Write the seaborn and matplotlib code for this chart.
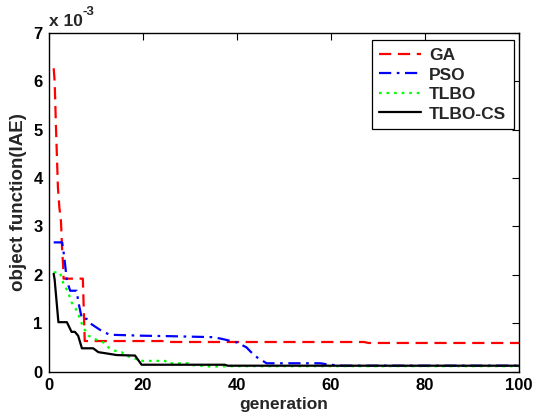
import numpy as np
import pandas as pd
import matplotlib
matplotlib.use("Agg")
import matplotlib.pyplot as plt
from matplotlib.ticker import FuncFormatter
import seaborn as sns

# Convergence curves: best objective value (IAE) per generation
ga_gen = [1, 1.2, 1.5, 1.7, 1.9, 2.2, 2.55, 2.8, 3.0, 3.1, 7.2, 7.6, 25, 26, 67, 68, 100]
ga_iae = [6.27e-3, 6.0e-3, 5.0e-3, 4.4e-3, 3.8e-3, 3.4e-3, 3.1e-3, 2.5e-3, 2.2e-3, 1.92e-3,
          1.92e-3, 0.63e-3, 0.63e-3, 0.61e-3, 0.61e-3, 0.59e-3, 0.59e-3]

pso_gen = [1, 2.8, 3.2, 3.5, 3.8, 4.5, 5.9, 6.2, 7.0, 8.0, 8.7, 11.5, 13.0, 20, 26, 35,
           37, 40, 42, 43, 44.3, 46.3, 57.7, 59.8, 62.5, 100]
pso_iae = [2.67e-3, 2.67e-3, 2.4e-3, 2.15e-3, 1.88e-3, 1.67e-3, 1.67e-3, 1.46e-3, 1.09e-3,
           1.09e-3, 1.0e-3, 0.82e-3, 0.76e-3, 0.74e-3, 0.73e-3, 0.71e-3, 0.67e-3, 0.6e-3,
           0.5e-3, 0.4e-3, 0.29e-3, 0.17e-3, 0.17e-3, 0.14e-3, 0.12e-3, 0.12e-3]

tlbo_gen = [1, 2.3, 3.0, 4.1, 4.8, 5.9, 6.6, 7.3, 8.4, 9.8, 11.6, 12.6, 14.0, 15.5, 16.0,
            18.5, 19.0, 24.7, 25.2, 29.6, 30.0, 34.6, 38, 100]
tlbo_iae = [2.05e-3, 2.05e-3, 1.84e-3, 1.63e-3, 1.43e-3, 1.26e-3, 1.09e-3, 0.91e-3, 0.74e-3,
            0.67e-3, 0.6e-3, 0.5e-3, 0.43e-3, 0.4e-3, 0.34e-3, 0.26e-3, 0.22e-3, 0.22e-3,
            0.17e-3, 0.17e-3, 0.14e-3, 0.10e-3, 0.11e-3, 0.11e-3]

cs_gen = [1, 1.2, 1.6, 2.0, 3.8, 4.8, 5.5, 6.2, 7.0, 9.4, 10.5, 12.5, 14.4, 18.3, 19.7,
          37.4, 38, 100]
cs_iae = [2.02e-3, 1.9e-3, 1.46e-3, 1.02e-3, 1.02e-3, 0.82e-3, 0.82e-3, 0.74e-3, 0.48e-3,
          0.48e-3, 0.4e-3, 0.37e-3, 0.34e-3, 0.33e-3, 0.14e-3, 0.14e-3, 0.12e-3, 0.12e-3]

series = [
    ("GA", ga_gen, ga_iae, "#ff0000", (0, (5.5, 3))),
    ("PSO", pso_gen, pso_iae, "#0000ff", (0, (5.5, 2.5, 1.2, 2.5))),
    ("TLBO", tlbo_gen, tlbo_iae, "#00ff00", (0, (1.2, 2.2))),
    ("TLBO-CS", cs_gen, cs_iae, "#000000", "-"),
]

sns.set_style("white")
plt.rcParams["font.family"] = ["Liberation Sans", "DejaVu Sans"]

fig = plt.figure(figsize=(5.34, 4.16), dpi=100)
ax = fig.add_axes([49 / 534, 1 - 371.5 / 416, 470 / 534, (371.5 - 33) / 416])

for name, g, v, color, ls in series:
    df = pd.DataFrame({"generation": g, "iae": v})
    sns.lineplot(data=df, x="generation", y="iae", ax=ax, color=color,
                 estimator=None, sort=False, linewidth=1.6, label=name)
    ax.lines[-1].set_linestyle(ls)

ax.set_xlim(0, 100)
ax.set_ylim(0, 7e-3)
ax.set_xticks(np.arange(0, 101, 20))
ax.set_yticks(np.arange(0, 8) * 1e-3)
ax.yaxis.set_major_formatter(FuncFormatter(lambda y, _: f"{y * 1e3:.0f}"))
ax.tick_params(direction="in", length=5, width=0.8, top=True, right=True,
               labelsize=12, pad=4.5, colors="black")
for lab in ax.get_xticklabels() + ax.get_yticklabels():
    lab.set_fontweight("bold")
for sp in ax.spines.values():
    sp.set_color("black")
    sp.set_linewidth(1.0)

ax.set_xlabel("generation", fontsize=12.5, fontweight="bold", labelpad=3)
ax.set_ylabel("object function(IAE)", fontsize=13.5, fontweight="bold", labelpad=5)

ax.text(0.0, 1.012, "x 10", transform=ax.transAxes, fontsize=12.5,
        fontweight="bold", ha="left", va="bottom")
ax.annotate("-3", xy=(0.0, 1.012), xycoords="axes fraction", xytext=(24, 8),
            textcoords="offset points", fontsize=9.5, fontweight="bold",
            ha="left", va="bottom")

leg = ax.legend(loc="upper right", bbox_to_anchor=(0.989, 0.979), borderaxespad=0,
                frameon=True, fancybox=False, edgecolor="black", framealpha=1,
                handlelength=2.4, handletextpad=0.45, labelspacing=0.25,
                borderpad=0.45, prop={"size": 12.5, "weight": "bold"})
leg.get_frame().set_linewidth(0.9)

fig.savefig("out.png", dpi=100)
